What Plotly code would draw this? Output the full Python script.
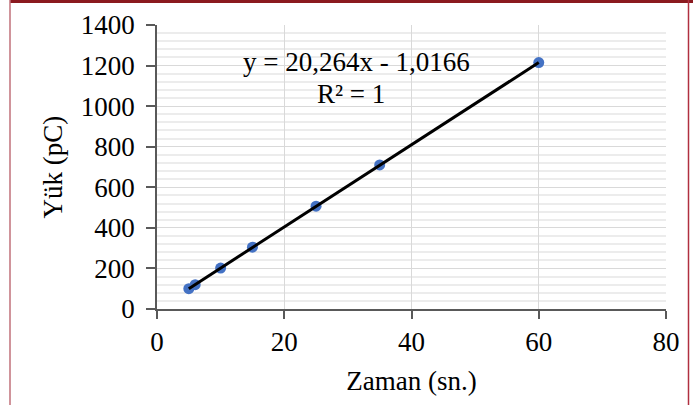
import plotly.graph_objects as go

# Data
zaman = [5, 6, 10, 15, 25, 35, 60]
yuk = [100, 120, 202, 305, 507, 710, 1215]
slope = 20.264
intercept = -1.0166
eq_text = "y = 20,264x - 1,0166"
r2_text = "R² = 1"
x_title = "Zaman (sn.)"
y_title = "Yük (pC)"

trend_x = [min(zaman), max(zaman)]
trend_y = [slope * x + intercept for x in trend_x]

FONT = "Liberation Serif"
FS = 27

fig = go.Figure()
fig.add_trace(go.Scatter(x=zaman, y=yuk, mode="markers",
                         marker=dict(color="#4472C4", size=11), showlegend=False))
fig.add_trace(go.Scatter(x=trend_x, y=trend_y, mode="lines",
                         line=dict(color="black", width=3), showlegend=False))

W, H = 693, 405
L, T = 157, 25
R = W - 666
B = H - 309
pw, ph = W - L - R, H - T - B

def px(p):
    return (p - L) / pw

def py(q):
    return (H - B - q) / ph

fig.update_layout(
    width=W, height=H,
    margin=dict(l=L, r=R, t=T, b=B, autoexpand=False),
    paper_bgcolor="white", plot_bgcolor="white",
    font=dict(family=FONT, color="black", size=FS),
    xaxis=dict(range=[0, 80], dtick=20, showgrid=True, gridcolor="#d9d9d9", gridwidth=1,
               showline=True, linecolor="#595959", linewidth=1.5,
               ticks="outside", ticklen=8, tickcolor="#595959", tickwidth=1.5,
               zeroline=False,
               title=dict(text=x_title, font=dict(size=FS, family=FONT), standoff=15),
               tickfont=dict(size=FS, family=FONT)),
    yaxis=dict(range=[0, 1400], dtick=200, showgrid=True, gridcolor="#d9d9d9", gridwidth=1,
               minor=dict(dtick=40, showgrid=True, gridcolor="#ececec", gridwidth=1.5),
               showline=True, linecolor="#595959", linewidth=1.5,
               ticks="outside", ticklen=9, tickcolor="#595959", tickwidth=1.5,
               ticklabelstandoff=6,
               zeroline=False,
               title=dict(text=y_title, font=dict(size=FS, family=FONT), standoff=10),
               tickfont=dict(size=FS, family=FONT)),
    annotations=[
        dict(x=px(356), y=py(45), xref="paper", yref="paper", text=eq_text, showarrow=False,
             font=dict(size=FS, family=FONT)),
        dict(x=px(351), y=py(77), xref="paper", yref="paper", text=r2_text, showarrow=False,
             font=dict(size=FS, family=FONT)),
    ],
)

shapes = [
    dict(type="rect", xref="paper", yref="paper", x0=px(10), x1=px(693), y0=py(3), y1=py(0),
         fillcolor="#8b1a1f", line=dict(width=0), layer="above"),
    dict(type="line", xref="paper", yref="paper", x0=px(10), x1=px(10), y0=py(405), y1=py(0),
         line=dict(color="#c0707a", width=1.5), layer="above"),
    dict(type="line", xref="paper", yref="paper", x0=px(688.5), x1=px(688.5), y0=py(405), y1=py(0),
         line=dict(color="#b03040", width=1.5), layer="above"),
]
fig.update_layout(shapes=shapes)

fig.write_html("out.html", config={"displayModeBar": False},
               post_script="document.body.style.margin='0';document.body.style.overflow='hidden';")
